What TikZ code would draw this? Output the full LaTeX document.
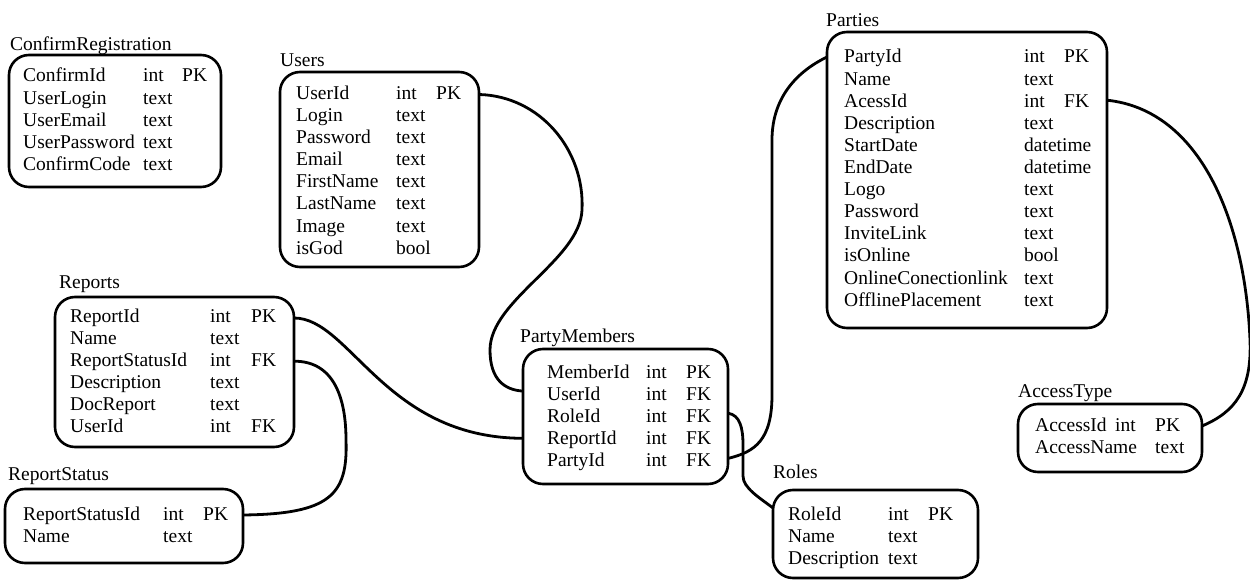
\documentclass[tikz,border=0pt]{standalone}
\usepackage{fontspec}
\setmainfont{Liberation Serif}
\usetikzlibrary{calc}
\tikzset{
  cell/.style={anchor=base west, inner sep=0pt, font=\fontsize{19.5}{22}\selectfont},
  ttl/.style={anchor=base west, inner sep=0pt, font=\fontsize{19.5}{22}\selectfont},
  tbox/.style={draw, line width=2.6pt, rounded corners=20pt, anchor=north west, inner sep=0pt, outer sep=0pt},
  conn/.style={draw, line width=2.8pt}
}
\newcommand\tblrows[6]{%
  \foreach \a/\b/\c [count=\i] in {#6} {
    \node[cell] (#1-n\i) at (#2,{#5+22.1*(\i-1)}) {\a};
    \node[cell] (#1-t\i) at (#3,{#5+22.1*(\i-1)}) {\b};
    \node[cell] (#1-k\i) at (#4,{#5+22.1*(\i-1)}) {\c};
  }}
\begin{document}
\begin{tikzpicture}[x=1pt,y=-1pt]
\useasboundingbox[fill=white] (0,0) rectangle (1250,580);
% ConfirmRegistration
\node[ttl] (crtitle) at (10,51) {ConfirmRegistration};
\node[tbox, minimum width=212pt, minimum height=132pt] (crbox) at (9,55) {};
\tblrows{cr}{23}{143}{182}{82}{ConfirmId/int/PK, UserLogin/text/{}, UserEmail/text/{}, UserPassword/text/{}, ConfirmCode/text/{}}
% Users
\node[ttl] (ustitle) at (280,67) {Users};
\node[tbox, minimum width=199pt, minimum height=195pt] (usersbox) at (280,72) {};
\tblrows{users}{296}{396}{436}{99.5}{UserId/int/PK, Login/text/{}, Password/text/{}, Email/text/{}, FirstName/text/{}, LastName/text/{}, Image/text/{}, isGod/bool/{}}
% Reports
\node[ttl] (reptitle) at (59,288) {Reports};
\node[tbox, minimum width=239pt, minimum height=150pt] (repbox) at (55,297) {};
\tblrows{rep}{70}{210}{251}{322}{ReportId/int/PK, Name/text/{}, ReportStatusId/int/FK, Description/text/{}, DocReport/text/{}, UserId/int/FK}
% ReportStatus
\node[ttl] (rstitle) at (8,480) {ReportStatus};
\node[tbox, minimum width=238pt, minimum height=74pt] (rsbox) at (5,489) {};
\tblrows{rs}{23}{163}{203}{520}{ReportStatusId/int/PK, Name/text/{}}
% PartyMembers
\node[ttl] (pmtitle) at (520,342) {PartyMembers};
\node[tbox, minimum width=205pt, minimum height=135pt] (pmbox) at (523,349) {};
\tblrows{pm}{547}{646}{686}{378}{MemberId/int/PK, UserId/int/FK, RoleId/int/FK, ReportId/int/FK, PartyId/int/FK}
% Parties
\node[ttl] (ptitle) at (826,27) {Parties};
\node[tbox, minimum width=280pt, minimum height=296pt] (partiesbox) at (827,32) {};
\tblrows{parties}{844}{1024}{1064}{63}{PartyId/int/PK, Name/text/{}, AcessId/int/FK, Description/text/{}, StartDate/datetime/{}, EndDate/datetime/{}, Logo/text/{}, Password/text/{}, InviteLink/text/{}, isOnline/bool/{}, OnlineConectionlink/text/{}, OfflinePlacement/text/{}}
% AccessType
\node[ttl] (attitle) at (1018,397) {AccessType};
\node[tbox, minimum width=184pt, minimum height=68pt] (atbox) at (1018,404) {};
\tblrows{at}{1035}{1115}{1155}{431}{AccessId/int/PK, AccessName/{}/text}
% Roles
\node[ttl] (rotitle) at (773,478) {Roles};
\node[tbox, minimum width=205pt, minimum height=88pt] (rolesbox) at (773,490) {};
\tblrows{roles}{788}{888}{928}{520}{RoleId/int/PK, Name/text/{}, Description/text/{}}
% connector end points
\coordinate (c1a) at ($(usersbox.east |- users-n1.base)+(0,-5)$);
\coordinate (c1b) at ($(pmbox.west |- pm-n2.base)+(0,-9)$);
\coordinate (c2a) at ($(repbox.east |- rep-n1.base)+(0,-4)$);
\coordinate (c2b) at ($(pmbox.west |- pm-n4.base)+(0,-6)$);
\coordinate (c3a) at ($(repbox.east |- rep-n3.base)+(0,-5)$);
\coordinate (c3b) at ($(rsbox.east |- rs-n1.base)+(0,-5)$);
\coordinate (c4a) at ($(pmbox.east |- pm-n3.base)+(0,-9)$);
\coordinate (c4b) at ($(rolesbox.west |- roles-n1.base)+(0,-12)$);
\coordinate (c5a) at ($(pmbox.east |- pm-n5.base)+(0,-8)$);
\coordinate (c5b) at ($(partiesbox.west |- parties-n1.base)+(0,-6)$);
\coordinate (c6a) at ($(partiesbox.east |- parties-n3.base)+(0,-7)$);
\coordinate (c6b) at ($(atbox.east |- at-n1.base)+(0,-5)$);
% connectors
\draw[conn] (c1a) .. controls (540,96) and (585,150) .. (582,210) .. controls (580,260) and (490,300) .. (490,350) .. controls (490,380) and (505,390) .. (c1b);
\draw[conn] (c2a) .. controls (350,318) and (385,438) .. (c2b);
\draw[conn] (c3a) .. controls (335,361) and (346,400) .. (346,440) .. controls (348,495) and (330,514) .. (c3b);
\draw[conn] (c4a) .. controls (740,415) and (743,428) .. (743,445) -- (743,476) .. controls (743,488) and (760,498) .. (c4b);
\draw[conn] (c5a) .. controls (755,452) and (772,440) .. (772,395) -- (772,140) .. controls (772,95) and (800,70) .. (c5b);
\draw[conn] (c6a) .. controls (1200,110) and (1245,220) .. (1250,340) .. controls (1252,390) and (1235,412) .. (c6b);
\end{tikzpicture}
\end{document}
